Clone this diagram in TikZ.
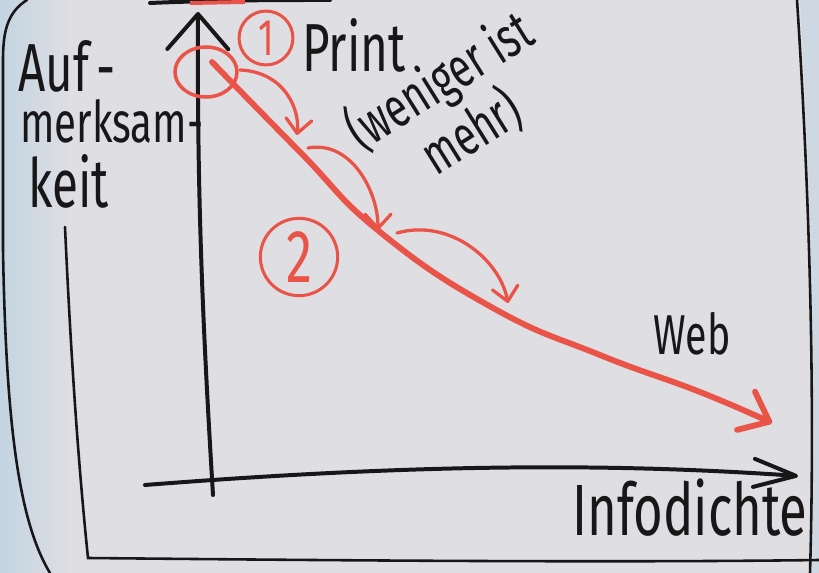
\documentclass[tikz,border=0pt]{standalone}
\usepackage{fontspec}
\setmainfont{Fira Sans}[FakeStretch=0.7]
\usetikzlibrary{arrows.meta}
\definecolor{paper}{RGB}{222,222,227}
\definecolor{tint}{RGB}{196,212,226}
\definecolor{ink}{RGB}{25,22,24}
\definecolor{marker}{RGB}{234,84,72}

\begin{document}
\begin{tikzpicture}[x=0.03cm, y=-0.03cm,
    frame/.style={draw=ink, line width=2.2pt, line cap=round},
    axis/.style={draw=ink, line width=3.4pt, line cap=round},
    curve/.style={draw=marker, line width=5pt, line cap=round},
    hint/.style={draw=marker, line width=2.8pt, line cap=round, -{Straight Barb[length=12pt, width=22pt, round]}},
    hand/.style={text=ink, inner sep=0pt},
    num/.style={circle, draw=marker, line width=2.6pt, text=marker, inner sep=0pt}
  ]
    \useasboundingbox (0,0) rectangle (819,573);
    % Papier
    \fill[paper] (0,0) rectangle (819,573);
    \shade[left color=tint, right color=paper] (0,0) rectangle (70,573);
    \fill[tint!60!paper] (800,0) -- (819,0) -- (819,573) -- (812,573) .. controls (816,400) and (812,200) .. cycle;
    % Rahmen
    \draw[frame] (27,0) .. controls (8,12) and (3,30) .. (3,60) -- (3,250) .. controls (6,420) and (18,520) .. (50,573);
    \draw[frame] (65,227) .. controls (72,380) and (80,480) .. (88,558) .. controls (300,560) and (600,563) .. (819,560);
    \draw[frame] (797,0) .. controls (810,200) and (815,400) .. (810,573);
    \draw[axis] (150,3) .. controls (220,0) and (280,0) .. (330,0);
    \draw[marker, line width=3.4pt] (190,3) -- (245,2);
    % Achsen
    \coordinate (ybot) at (213,495);
    \coordinate (ytop) at (198,12);
    \coordinate (xleft) at (145,485);
    \coordinate (xright) at (798,476);
    \draw[axis, -{Straight Barb[length=30pt, width=52pt, round]}] (ybot) .. controls (203,330) and (197,200) .. (ytop);
    \draw[axis, -{Straight Barb[length=36pt, width=24pt, round]}] (xleft) .. controls (400,465) and (600,462) .. (xright);
    % Achsenbeschriftung
    \node[hand, anchor=base west, font=\fontsize{58}{58}\selectfont] (auf) at (18,92) {Auf\hspace{6pt}-};
    \node[hand, anchor=base west, font=\fontsize{49}{49}\selectfont] (merk) at (20,143) {merksam-};
    \node[hand, anchor=base west, font=\fontsize{58}{58}\selectfont] (keit) at (28,208) {keit};
    \node[hand, font=\fontsize{62}{62}\selectfont] (info) at (690,508) {Infodichte};
    % Kurve
    \draw[marker, line width=3pt] (206,72) ellipse [x radius=31, y radius=25];
    \draw[curve, -{Straight Barb[length=22pt, width=36pt, round]}] plot[smooth, tension=0.8]
      coordinates {(212,62) (300,152) (380,232) (493,308) (600,355) (700,392) (772,423)};
    % kleine Pfeile
    \draw[hint] (240,70) .. controls (285,72) and (300,110) .. (297,135);
    \draw[hint] (308,148) .. controls (350,140) and (378,190) .. (378,230);
    \draw[hint] (397,233) .. controls (450,218) and (500,260) .. (508,303);
    % Nummern
    \node[num, minimum size=46pt, font=\fontsize{44}{44}\selectfont] (one) at (266,38) {1};
    \node[num, minimum size=66pt, font=\fontsize{64}{64}\selectfont] (two) at (299,257) {2};
    % Print / Web
    \node[hand, anchor=base west, font=\fontsize{58}{58}\selectfont] (print) at (302,72) {Print};
    \node[hand, rotate=32, align=center, font=\fontsize{48}{44}\selectfont] (weniger) at (455,106) {(weniger ist\\mehr)};
    \node[hand, font=\fontsize{48}{48}\selectfont] (web) at (692,334) {Web};
  \end{tikzpicture}
\end{document}
